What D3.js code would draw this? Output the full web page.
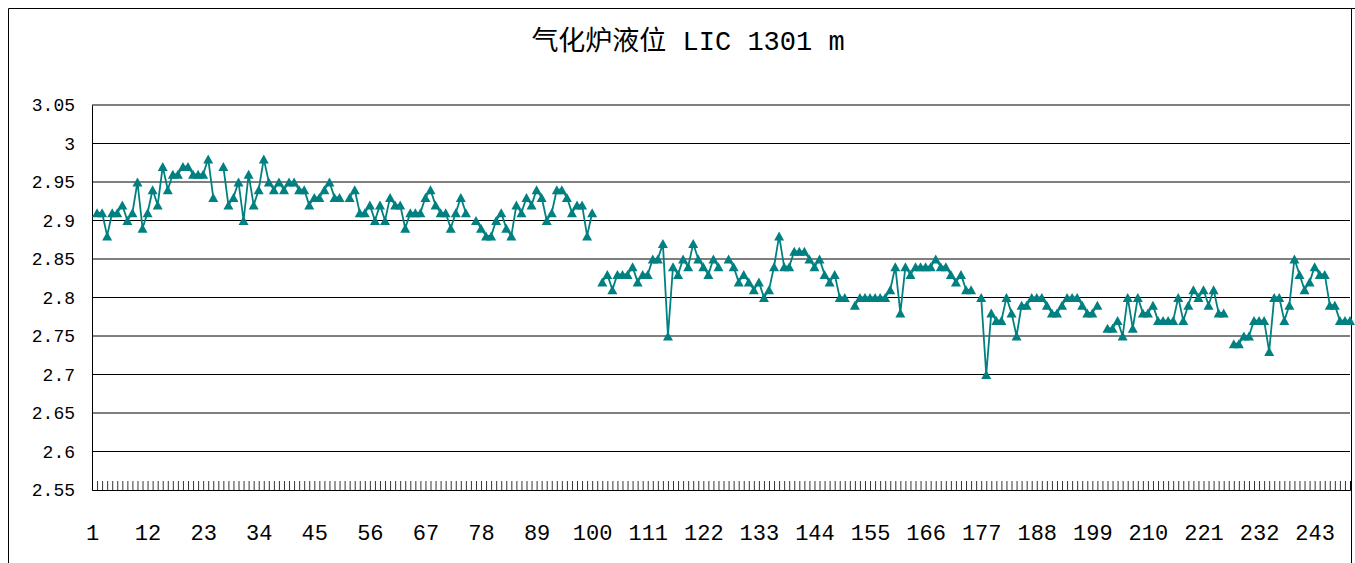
<!DOCTYPE html>
<html>
<head>
<meta charset="utf-8">
<script src="https://cdn.jsdelivr.net/npm/d3@7"></script>
<style>
  html, body { margin: 0; padding: 0; background: #fff; }
  svg { display: block; }
  text { font-family: "Liberation Mono", "Noto Sans CJK SC", monospace; fill: #000; }
</style>
</head>
<body>
<svg id="chart" width="1355" height="563"></svg>
<script>
// Gasifier level LIC 1301, one reading per sample; every 25th sample is empty.
const level001 = [null, 2.91, 2.91, 2.88, 2.91, 2.91, 2.92, 2.90, 2.91, 2.95, 2.89, 2.91, 2.94, 2.92, 2.97, 2.94, 2.96, 2.96, 2.97, 2.97, 2.96, 2.96, 2.96, 2.98, 2.93];
const level026 = [null, 2.97, 2.92, 2.93, 2.95, 2.90, 2.96, 2.92, 2.94, 2.98, 2.95, 2.94, 2.95, 2.94, 2.95, 2.95, 2.94, 2.94, 2.92, 2.93, 2.93, 2.94, 2.95, 2.93, 2.93];
const level051 = [null, 2.93, 2.94, 2.91, 2.91, 2.92, 2.90, 2.92, 2.90, 2.93, 2.92, 2.92, 2.89, 2.91, 2.91, 2.91, 2.93, 2.94, 2.92, 2.91, 2.91, 2.89, 2.91, 2.93, 2.91];
const level076 = [null, 2.90, 2.89, 2.88, 2.88, 2.90, 2.91, 2.89, 2.88, 2.92, 2.91, 2.93, 2.92, 2.94, 2.93, 2.90, 2.91, 2.94, 2.94, 2.93, 2.91, 2.92, 2.92, 2.88, 2.91];
const level101 = [null, 2.82, 2.83, 2.81, 2.83, 2.83, 2.83, 2.84, 2.82, 2.83, 2.83, 2.85, 2.85, 2.87, 2.75, 2.84, 2.83, 2.85, 2.84, 2.87, 2.85, 2.84, 2.83, 2.85, 2.84];
const level126 = [null, 2.85, 2.84, 2.82, 2.83, 2.82, 2.81, 2.82, 2.80, 2.81, 2.84, 2.88, 2.84, 2.84, 2.86, 2.86, 2.86, 2.85, 2.84, 2.85, 2.83, 2.82, 2.83, 2.80, 2.80];
const level151 = [null, 2.79, 2.80, 2.80, 2.80, 2.80, 2.80, 2.80, 2.81, 2.84, 2.78, 2.84, 2.83, 2.84, 2.84, 2.84, 2.84, 2.85, 2.84, 2.84, 2.83, 2.82, 2.83, 2.81, 2.81];
const level176 = [null, 2.80, 2.70, 2.78, 2.77, 2.77, 2.80, 2.78, 2.75, 2.79, 2.79, 2.80, 2.80, 2.80, 2.79, 2.78, 2.78, 2.79, 2.80, 2.80, 2.80, 2.79, 2.78, 2.78, 2.79];
const level201 = [null, 2.76, 2.76, 2.77, 2.75, 2.80, 2.76, 2.80, 2.78, 2.78, 2.79, 2.77, 2.77, 2.77, 2.77, 2.80, 2.77, 2.79, 2.81, 2.80, 2.81, 2.79, 2.81, 2.78, 2.78];
const level226 = [null, 2.74, 2.74, 2.75, 2.75, 2.77, 2.77, 2.77, 2.73, 2.80, 2.80, 2.77, 2.79, 2.85, 2.83, 2.81, 2.82, 2.84, 2.83, 2.83, 2.79, 2.79, 2.77, 2.77, 2.77];

const levels = [].concat(level001, level026, level051, level076, level101,
                         level126, level151, level176, level201, level226);
const categories = levels.map((_, i) => i + 1);
const yTickValues = [2.55, 2.6, 2.65, 2.7, 2.75, 2.8, 2.85, 2.9, 2.95, 3, 3.05];
const yTickLabels = ["2.55", "2.6", "2.65", "2.7", "2.75", "2.8", "2.85", "2.9", "2.95", "3", "3.05"];
const xLabelCategories = categories.filter(c => (c - 1) % 11 === 0);
const title = "气化炉液位 LIC 1301 m";

const W = 1355, H = 563;
const plot = { left: 92, right: 1350, top: 105, bottom: 490 };
const teal = "#008080";

const svg = d3.select("#chart");

const x = d3.scalePoint().domain(categories).range([plot.left, plot.right]);
const y = d3.scaleLinear().domain([2.55, 3.05]).range([plot.bottom, plot.top]);

// chart frame
svg.append("path")
  .attr("d", `M8.5,${H} V8.5 H${W}`)
  .attr("fill", "none").attr("stroke", "#000").attr("stroke-width", 1);
svg.append("line")
  .attr("x1", 1351.5).attr("x2", 1351.5).attr("y1", 8).attr("y2", H)
  .attr("stroke", "#000");

// title
svg.append("text")
  .attr("x", 688).attr("y", 50)
  .attr("text-anchor", "middle")
  .style("font-size", "27px")
  .text(title);

// horizontal gridlines
svg.append("g")
  .selectAll("line")
  .data(yTickValues.filter(v => v > 2.55))
  .join("line")
  .attr("x1", plot.left).attr("x2", plot.right)
  .attr("y1", d => y(d)).attr("y2", d => y(d))
  .attr("stroke", "#000").attr("stroke-width", 1);

// y axis
const yAxis = d3.axisLeft(y)
  .tickValues(yTickValues)
  .tickSize(0)
  .tickPadding(17)
  .tickFormat((d, i) => yTickLabels[i]);
const gy = svg.append("g").attr("transform", `translate(${plot.left},0)`).call(yAxis);
gy.select(".domain").attr("stroke", "#000");
gy.selectAll(".tick text").style("font-size", "18px").attr("fill", "#000");

// x axis: a tick at every sample, labels every 11th
const xAxis = d3.axisBottom(x)
  .tickSize(-9)
  .tickPadding(0)
  .tickFormat(d => xLabelCategories.includes(d) ? String(d) : "");
const gx = svg.append("g").attr("transform", `translate(0,${plot.bottom})`).call(xAxis);
gx.select(".domain").attr("stroke", "#000");
gx.selectAll(".tick line").attr("stroke", "#000").attr("stroke-width", 0.8);
gx.selectAll(".tick text")
  .attr("y", 50)
  .attr("dy", 0)
  .style("font-size", "22px")
  .attr("fill", "#000");

// level line, broken at empty samples
const pts = categories.map((c, i) => ({ c, v: levels[i] }));
const line = d3.line()
  .defined(d => d.v !== null)
  .x(d => x(d.c))
  .y(d => y(d.v));
svg.append("path")
  .datum(pts)
  .attr("d", line)
  .attr("fill", "none")
  .attr("stroke", teal)
  .attr("stroke-width", 1.8)
  .attr("stroke-linejoin", "round");

// triangle markers centred on each reading
const triangle = {
  draw(ctx, size) {
    const w = Math.sqrt(size), h = w * 0.9;
    ctx.moveTo(0, -h / 2);
    ctx.lineTo(w / 2, h / 2);
    ctx.lineTo(-w / 2, h / 2);
    ctx.closePath();
  }
};
svg.append("g")
  .selectAll("path")
  .data(pts.filter(d => d.v !== null))
  .join("path")
  .attr("transform", d => `translate(${x(d.c)},${y(d.v)})`)
  .attr("d", d3.symbol(triangle, 100))
  .attr("fill", teal);
</script>
</body>
</html>
